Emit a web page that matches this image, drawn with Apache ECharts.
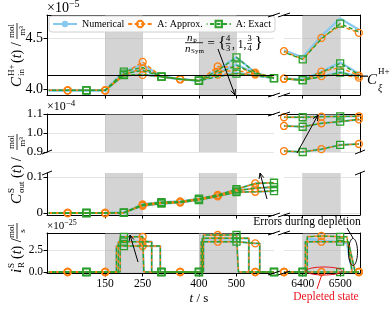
<!DOCTYPE html>
<html><head><meta charset="utf-8">
<script src="https://cdn.jsdelivr.net/npm/echarts@6.0.0/dist/echarts.min.js"></script>
<style>html,body{margin:0;padding:0;background:#fff;}#chart{width:390px;height:313px;}</style>
</head><body><div id="chart"></div>
<script>
// ================= DATA =================
const legendNames = ['Numerical', 'A: Approx.', 'A: Exact'];
const timeLeft = [0,50,100,150,200,250,300,350,400,450,500,550,600];
const timeRight = [6350,6400,6450,6500,6550];
const shadeLeft = [[150,250],[400,500]];
const shadeRight = [[6400,6500]];
const xTicksLeft = [150,250,400,500];
const xTicksRight = [6400,6500];
const cXi = 4.125;   // C_xi^{H+} level (x1e-5)

// C_in^{H+} (x1e-5); rows: n_P/n_Sym = 4/3, 1, 3/4
const cinLeftNum = [
 [3.985,3.985,3.985,3.985,4.17,4.24,4.12,4.095,4.08,4.19,4.31,4.16,4.105],
 [3.985,3.985,3.985,3.985,4.15,4.19,4.12,4.095,4.08,4.16,4.24,4.15,4.105],
 [3.985,3.985,3.985,3.985,4.135,4.14,4.12,4.095,4.08,4.125,4.16,4.13,4.105]];
const cinLeftApprox = [
 [3.985,3.985,3.985,3.985,4.15,4.265,4.12,4.095,4.08,4.22,4.21,4.16,4.11],
 [3.985,3.985,3.985,3.985,4.14,4.20,4.12,4.095,4.08,4.17,4.18,4.15,4.11],
 [3.985,3.985,3.985,3.985,4.13,4.137,4.12,4.095,4.08,4.14,4.15,4.14,4.11]];
const cinLeftExact = [
 [3.985,3.985,3.985,3.985,4.17,4.21,4.12,4.095,4.08,4.18,4.31,4.16,4.105],
 [3.985,3.985,3.985,3.985,4.15,4.18,4.12,4.095,4.08,4.15,4.23,4.15,4.105],
 [3.985,3.985,3.985,3.985,4.135,4.14,4.12,4.095,4.08,4.12,4.15,4.13,4.105]];
const cinRightNum = [[4.38,4.31,4.52,4.69,4.58],[4.10,4.09,4.17,4.26,4.15],[4.10,4.09,4.12,4.165,4.12]];
const cinRightApprox = [[4.37,4.29,4.50,4.62,4.55],[4.10,4.085,4.17,4.21,4.13],[4.10,4.085,4.125,4.14,4.11]];
const cinRightExact = [[4.36,4.29,4.49,4.64,4.56],[4.10,4.085,4.16,4.25,4.14],[4.10,4.085,4.12,4.16,4.12]];

// C_out^S (x1e-4)
const coutLeft = [
 [0,0,0,0,0.001,0.024,0.030,0.032,0.040,0.050,0.066,0.082,0.084],
 [0,0,0,0,0.001,0.022,0.028,0.030,0.038,0.048,0.062,0.069,0.072],
 [0,0,0,0,0.001,0.020,0.026,0.029,0.036,0.046,0.058,0.059,0.061]];
const coutRight = [
 [1.083,1.083,1.086,1.087,1.088],
 [1.037,1.033,1.051,1.060,1.072],
 [0.905,0.900,0.915,0.937,0.942]];

// i_R^S (x1e-25)
const iRLeftTime = [
 [0,50,100,150,190,190,200,250,253,253,300,350,400,412,412,450,500,505,505,550,600],
 [0,50,100,150,185,185,200,250,274,274,300,350,400,409,409,450,500,533,533,550,600],
 [0,50,100,150,180,180,200,250,297,297,300,350,400,406,406,450,500,550,562,562,600]];
const iRLeftVal = [
 [0,0,0,0,0,4.0,4.0,4.0,4.0,0,0,0,0,0,4.2,4.2,4.2,4.2,0,0,0],
 [0,0,0,0,0,3.44,3.44,3.44,3.44,0,0,0,0,0,3.83,3.83,3.83,3.83,0,0,0],
 [0,0,0,0,0,2.95,2.95,2.95,2.95,0,0,0,0,0,3.44,3.44,3.44,3.25,3.25,0,0]];
const iRRightTime = [
 [6350,6400,6450,6500,6550],
 [6350,6400,6412,6412,6450,6500,6518,6532,6550],
 [6350,6400,6407,6407,6450,6500,6522,6540,6550]];
const iRRightVal = [
 [0,0,0,0,0],
 [0,0,0,4.0,4.1,4.0,4.0,0,0],
 [0,0,0,3.44,3.44,3.44,3.44,0,0]];
const iRRightNumVal = [
 [0,0,0,0,0],
 [0,0,0,3.8,3.6,3.35,3.25,0,0],
 [0,0,0,3.44,3.44,3.44,3.3,0,0]];

// axis ranges and tick labels
const xRangeLeft = [-5,600], xRangeRight = [6350,6553];
const yRanges = [[3.94,4.725],[0.9,1.1],[-0.0056,0.1111],[-0.114,4.43]];
const yTicks = [[4.0,4.5],[0.9,1.0,1.1],[0,0.1],[0,2.5]];
const yTickLabels = [['4.0','4.5'],['0.9','1.0','1.1'],['0','0.1'],['0.0','2.5']];
const yLabelSize = [14,13,13,11.5];

// ================= STYLE / LAYOUT =================
const SERIF = "'Liberation Serif','DejaVu Serif',serif";
const C_NUM = '#86c8f0', C_APP = '#ff7f0e', C_EX = '#2ca02c';
const GRIDS = [
 [47,15,227,80],[284,15,76,80],
 [47,114,227,38],[284,114,76,38],
 [47,173,227,42],[284,173,76,42],
 [47,233,227,40],[284,233,76,40]];

const grid = GRIDS.map(([l,t,w,h]) => ({left:l, top:t, width:w, height:h, containLabel:false}));
const xAxis = [], yAxis = [];
for (let g = 0; g < 8; g++) {
  const left = g % 2 === 0, row = Math.floor(g / 2);
  const xr = left ? xRangeLeft : xRangeRight, xt = left ? xTicksLeft : xTicksRight;
  xAxis.push({gridIndex:g, type:'value', position:'bottom', min:xr[0], max:xr[1],
    axisLine:{show: row !== 1, onZero:false, lineStyle:{color:'#000', width:1}},
    axisTick:{show: row !== 1, customValues: xt, length:3.5, lineStyle:{color:'#000'}},
    axisLabel:{show: row === 3, customValues: xt, formatter: v => String(Math.round(v)), color:'#000', fontFamily:SERIF, fontSize:11.5, margin:5},
    splitLine:{show:true, lineStyle:{color:'#e4e4e4', width:1}}});
  const fmt = v => { const i = yTicks[row].findIndex(t => Math.abs(t - v) < 1e-9); return i >= 0 ? yTickLabels[row][i] : ''; };
  yAxis.push({gridIndex:g, type:'value', position: left ? 'left' : 'right', min:yRanges[row][0], max:yRanges[row][1],
    axisLine:{show:true, onZero:false, lineStyle:{color:'#000', width:1}},
    axisTick:{show:left, customValues:yTicks[row], length:3.5, lineStyle:{color:'#000'}},
    axisLabel:{show:left, customValues:yTicks[row], formatter:fmt, color:'#000', fontFamily:SERIF, fontSize:yLabelSize[row], margin:4},
    splitLine:{show:true, lineStyle:{color:'#e4e4e4', width:1}}});
}
[0,1,2,3,6,7].forEach(g => {
  const xr = g % 2 === 0 ? xRangeLeft : xRangeRight;
  xAxis.push({gridIndex:g, type:'value', position:'top', min:xr[0], max:xr[1],
    axisLine:{show:true, onZero:false, lineStyle:{color:'#000', width:1}},
    axisTick:{show:false}, axisLabel:{show:false}, splitLine:{show:false}});
});

const series = [];
// shading + C_xi line helpers
for (let g = 0; g < 8; g++) {
  const sh = g % 2 === 0 ? shadeLeft : shadeRight;
  const s = {type:'line', name:'_helper'+g, xAxisIndex:g, yAxisIndex:g, data:[], silent:true, z:1,
    markArea:{silent:true, itemStyle:{color:'rgba(170,170,170,0.5)'}, data: sh.map(([a,b]) => [{xAxis:a},{xAxis:b}])}};
  if (g < 2) s.markLine = {silent:true, symbol:['none','none'], label:{show:false},
    lineStyle:{color:'#000', width:1.2, type:'solid'}, data:[{yAxis:cXi}]};
  series.push(s);
}

const KIND = {
  num:   {name:legendNames[0], z:2, symbol:'none', lineStyle:{color:C_NUM, width:2.2}, itemStyle:{color:C_NUM}},
  approx:{name:legendNames[1], z:3, symbol:'circle',
          lineStyle:{color:C_APP, width:1.4, type:[4,2.5]},
          itemStyle:{color:'rgba(255,255,255,0)', borderColor:C_APP, borderWidth:1.3}},
  exact: {name:legendNames[2], z:4, symbol:'rect',
          lineStyle:{color:C_EX, width:1.4, type:[4,2.5], dashOffset:3.25},
          itemStyle:{color:'rgba(255,255,255,0)', borderColor:C_EX, borderWidth:1.3}}
};
function isMarker(kind, t) {
  return (kind === 'approx' && t % 100 === 50) || (kind === 'exact' && t % 100 === 0 && t > 0);
}
function add(g, kind, ts, vs) {
  const k = JSON.parse(JSON.stringify(KIND[kind]));
  const s = Object.assign({type:'line', xAxisIndex:g, yAxisIndex:g, data: ts.map((t, i) => [t, vs[i]]),
    showSymbol: kind !== 'num', silent:true, animation:false, emphasis:{disabled:true}}, k);
  if (kind !== 'num') s.symbolSize = v => isMarker(kind, v[0]) ? 7 : 0;
  series.push(s);
}
['num','approx','exact'].forEach(kind => {
  for (let v = 0; v < 3; v++) {
    add(0, kind, timeLeft, {num:cinLeftNum, approx:cinLeftApprox, exact:cinLeftExact}[kind][v]);
    add(1, kind, timeRight, {num:cinRightNum, approx:cinRightApprox, exact:cinRightExact}[kind][v]);
    add(3, kind, timeRight, coutRight[v]);
    add(4, kind, timeLeft, coutLeft[v]);
    add(6, kind, iRLeftTime[v], iRLeftVal[v]);
    add(7, kind, iRRightTime[v], kind === 'num' ? iRRightNumVal[v] : iRRightVal[v]);
  }
});

const option = {
  animation:false,
  backgroundColor:'#fff',
  grid, xAxis, yAxis, series,
  legend:{data:legendNames, left:49, top:16, itemWidth:24, itemHeight:8, itemGap:3,
    padding:[3,4,3,3], backgroundColor:'rgba(255,255,255,0.85)', borderColor:'#d0d0d0', borderWidth:1,
    borderRadius:3, z:10, textStyle:{fontFamily:SERIF, fontSize:10, color:'#000'}}
};

const chart = echarts.init(document.getElementById('chart'), null, {width:390, height:313});
chart.setOption(option);

// ================= ANNOTATIONS =================
const G = [];
function txt(x, y, text, size, extra) {
  return Object.assign({type:'text', x, y, z:100, silent:true,
    style:Object.assign({text, fill:'#000', fontFamily:SERIF, fontSize:size, align:'left', verticalAlign:'middle'}, extra && extra.style || {})},
    extra && extra.el || {});
}
function line(x1,y1,x2,y2,color,w) {
  return {type:'line', z:100, silent:true, shape:{x1,y1,x2,y2}, style:{stroke:color||'#000', lineWidth:w||1}};
}
function arrow(x1,y1,x2,y2) {
  const a = Math.atan2(y2-y1, x2-x1), L = 6, w = 0.42;
  return [line(x1,y1,x2,y2),
    {type:'polyline', z:100, silent:true, shape:{points:[[x2-L*Math.cos(a-w), y2-L*Math.sin(a-w)],[x2,y2],[x2-L*Math.cos(a+w), y2-L*Math.sin(a+w)]]},
     style:{stroke:'#000', lineWidth:1, fill:null}}];
}
function ellipse(cx, cy, rx, ry, color) {
  const p = [];
  for (let i = 0; i <= 48; i++) { const t = i / 48 * Math.PI * 2; p.push([cx + rx*Math.cos(t), cy + ry*Math.sin(t)]); }
  return {type:'polyline', z:100, silent:true, shape:{points:p}, style:{stroke:color, lineWidth:1, fill:null}};
}
function mult(x, y, exp, fa, fs) {
  return {type:'text', x, y, z:100, silent:true, style:{text:'{a|×10}{s|' + exp + '}', fill:'#000', align:'left', verticalAlign:'middle',
    rich:{a:{fontFamily:SERIF, fontSize:fa, lineHeight:fa+3}, s:{fontFamily:SERIF, fontSize:fs, lineHeight:fs, verticalAlign:'top'}}}};
}
G.push(mult(47, 8, '−5', 14, 10));
G.push(mult(47, 107, '−4', 12, 9));
G.push(mult(47, 226, '−25', 11, 8));

// y-axis titles (rotated groups)
function ytitle(x, y, parts) {
  return {type:'group', x, y, rotation:Math.PI/2, z:100, silent:true, children:parts};
}
const it = (x, y, s, size) => txt(x, y, s, size, {style:{fontStyle:'italic'}});
function frac(cx, top, bot, size, halfw) {
  return [txt(cx, -5.5, top, size, {style:{align:'center'}}), line(cx-halfw, 0, cx+halfw, 0, '#000', 0.8),
          txt(cx, 5.5, bot, size, {style:{align:'center'}})];
}
function tPart(x, size) {
  return {type:'text', x, y:0, silent:true, style:{text:'({i|t}) /', fill:'#000', fontFamily:SERIF, fontSize:size, align:'left', verticalAlign:'middle',
    rich:{i:{fontFamily:SERIF, fontSize:size, fontStyle:'italic'}}}};
}
G.push(ytitle(17, 87, [it(0,0,'C',15), txt(11,-5,'H+',9), txt(11,5,'in',9), tPart(24,14)].concat(frac(56,'mol','m³',9,8))));
G.push(ytitle(17, 204, [it(0,0,'C',15), txt(11,-5,'S',9), txt(11,5,'out',9), tPart(26,14)].concat(frac(62,'mol','m³',9,8))));
G.push(ytitle(17, 273, [it(0,0,'i',15), txt(5,-5,'S',9), txt(5,5,'R',9), tPart(14,14)].concat(frac(42,'mol','s',9,8))));

// x title
G.push({type:'text', x:199, y:299, z:100, silent:true, style:{text:'{i|t} / s', fill:'#000', fontFamily:SERIF, fontSize:13, align:'center', verticalAlign:'middle',
  rich:{i:{fontFamily:SERIF, fontSize:13, fontStyle:'italic'}}}});

// C_xi^{H+} label and extension of the line
const pXi = chart.convertToPixel({xAxisIndex:1, yAxisIndex:1}, [xRangeRight[1], cXi]);
G.push(line(pXi[0], pXi[1], 368, pXi[1], '#000', 1.2));
G.push(it(367, 80, 'C', 15));
G.push(txt(378, 72, 'H+', 9));
G.push(it(378, 88, 'ξ', 10));

// n_P / n_Sym annotation
G.push(it(187, 38, 'n', 11)); G.push(txt(193, 41, 'P', 7));
G.push(line(185, 42.7, 203, 42.7, '#000', 0.8));
G.push(it(185, 49, 'n', 11)); G.push(txt(191, 51.5, 'Sym', 7));
G.push(txt(207.5, 44, '=', 13));
G.push(txt(218, 44, '{', 17)); G.push(txt(254.5, 44, '}', 17));
G.push(txt(228, 38.5, '4', 8.5, {style:{align:'center'}})); G.push(line(225.5,43.5,230.5,43.5,'#000',0.7)); G.push(txt(228, 49, '3', 8.5, {style:{align:'center'}}));
G.push(txt(232, 45, ', 1, ', 11.5));
G.push(txt(249.5, 38.5, '3', 8.5, {style:{align:'center'}})); G.push(line(247,43.5,252,43.5,'#000',0.7)); G.push(txt(249.5, 49, '4', 8.5, {style:{align:'center'}}));
G.push(...arrow(218, 49, 235, 95));
G.push(...arrow(297, 153, 318, 115));
G.push(...arrow(267, 199, 260, 173));
G.push(...arrow(138, 262, 130, 235));

// errors during depletion / depleted state
G.push(txt(307, 222, 'Errors during depletion', 11.5, {style:{align:'center'}}));
G.push(line(347, 228, 353, 238));
G.push(ellipse(353, 252, 4.5, 13.5, '#000'));
G.push(ellipse(324, 271, 18, 4, '#e8141e'));
G.push(line(321.5, 275.5, 317, 289, '#e8141e'));
G.push(txt(326, 297, 'Depleted state', 11.5, {style:{align:'center', fill:'#e8141e'}}));

// broken-axis marks
[15, 95, 114, 215, 233, 273].forEach(y => {
  G.push(line(268, y+2, 280, y-2, '#000', 1));
  G.push(line(278, y+2, 290, y-2, '#000', 1));
});
[[47,152],[47,173],[360,152],[360,173]].forEach(([x,y]) => G.push(line(x-5, y+2, x+5, y-2, '#000', 1)));

chart.setOption({graphic: G});
</script>
</body></html>
